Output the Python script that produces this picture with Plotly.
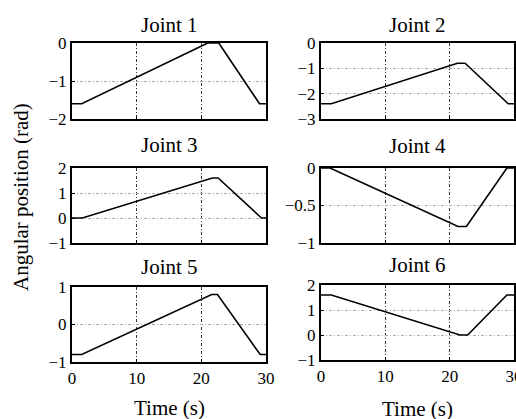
import plotly.graph_objects as go

# Data
t1 = [0, 1.5, 21.0, 22.7, 29.0, 30]
q1 = [-1.6, -1.6, 0.0, 0.0, -1.6, -1.6]
t2 = [0, 1.6, 21.2, 22.4, 29.1, 30]
q2 = [-2.4, -2.4, -0.8, -0.8, -2.4, -2.4]
t3 = [0, 1.6, 21.7, 22.6, 29.3, 30]
q3 = [0.0, 0.0, 1.6, 1.6, 0.0, 0.0]
t4 = [0, 1.4, 21.3, 22.6, 28.9, 30]
q4 = [0.0, 0.0, -0.78, -0.78, 0.0, 0.0]
t5 = [0, 1.5, 21.6, 22.5, 29.1, 30]
q5 = [-0.8, -0.8, 0.8, 0.8, -0.8, -0.8]
t6 = [0, 1.6, 21.6, 22.8, 28.9, 30]
q6 = [1.6, 1.6, 0.0, 0.0, 1.6, 1.6]

titles = ["Joint 1", "Joint 2", "Joint 3", "Joint 4", "Joint 5", "Joint 6"]
yranges = [[-2, 0], [-3, 0], [-1, 2], [-1, 0], [-1, 1], [-1, 2]]
yticks = [[-2, -1, 0], [-3, -2, -1, 0], [-1, 0, 1, 2], [-1, -0.5, 0], [-1, 0, 1], [-1, 0, 1, 2]]
xticks = [0, 10, 20, 30]

W, H = 516, 419
# pixel boxes (left, right, top, bottom)
boxes = [(72, 266, 43, 119), (321, 514, 43, 119),
         (72, 266, 168, 243), (321, 514, 168, 243),
         (72, 266, 287, 362), (321, 514, 285, 360)]
title_y = [25, 25, 145, 146, 267, 265]

series = [(t1, q1), (t2, q2), (t3, q3), (t4, q4), (t5, q5), (t6, q6)]
font = dict(family="Liberation Serif, Times New Roman, serif", color="black")
TICK = 17
LAB = 21

fig = go.Figure()
layout = dict(width=W, height=H, margin=dict(l=0, r=0, t=0, b=0),
              paper_bgcolor="white", plot_bgcolor="white", showlegend=False,
              font=dict(size=TICK, **font))
annotations = []
for i, ((t, q), (l, r, tp, bt)) in enumerate(zip(series, boxes)):
    n = i + 1
    xa = "x" if n == 1 else f"x{n}"
    ya = "y" if n == 1 else f"y{n}"
    fig.add_trace(go.Scatter(x=t, y=q, mode="lines", line=dict(color="black", width=1.6),
                             xaxis=xa, yaxis=ya, hoverinfo="skip"))
    bottom_row = n >= 5
    layout["xaxis" if n == 1 else f"xaxis{n}"] = dict(
        domain=[l / W, r / W], anchor=ya, range=[0, 30], tickvals=xticks,
        showticklabels=bottom_row, showgrid=True, gridcolor="#333",
        griddash="3px,2px,1px,2px", gridwidth=1, showline=True, linecolor="black",
        linewidth=2, mirror=True, zeroline=False, ticks="inside", ticklen=3,
        tickcolor="black", automargin=False, ticklabeloverflow="allow",
        tickfont=dict(size=TICK, **font))
    layout["yaxis" if n == 1 else f"yaxis{n}"] = dict(
        domain=[1 - bt / H, 1 - tp / H], anchor=xa, range=yranges[i], tickvals=yticks[i],
        showgrid=True, gridcolor="#aaa", griddash="3px,2px,1px,2px", gridwidth=1,
        showline=True, linecolor="black", linewidth=2, mirror=True, zeroline=False,
        ticks="inside", ticklen=3, tickcolor="black", automargin=False,
        tickfont=dict(size=TICK, **font))
    annotations.append(dict(text=titles[i], x=(l + r) / 2 / W, y=1 - title_y[i] / H,
                            xref="paper", yref="paper", showarrow=False,
                            xanchor="center", yanchor="middle", font=dict(size=LAB, **font)))

annotations.append(dict(text="Time (s)", x=169 / W, y=1 - 408 / H, xref="paper", yref="paper",
                        showarrow=False, xanchor="center", yanchor="middle", font=dict(size=LAB, **font)))
annotations.append(dict(text="Time (s)", x=417 / W, y=1 - 409 / H, xref="paper", yref="paper",
                        showarrow=False, xanchor="center", yanchor="middle", font=dict(size=LAB, **font)))
annotations.append(dict(text="Angular position (rad)", x=21 / W, y=1 - 197 / H, xref="paper",
                        yref="paper", showarrow=False, textangle=-90, xanchor="center",
                        yanchor="middle", font=dict(size=21, **font)))
layout["annotations"] = annotations
fig.update_layout(**layout)
fig.write_html("out.html", config={"displayModeBar": False},
               post_script="document.body.style.margin='0';document.body.style.overflow='hidden';")
